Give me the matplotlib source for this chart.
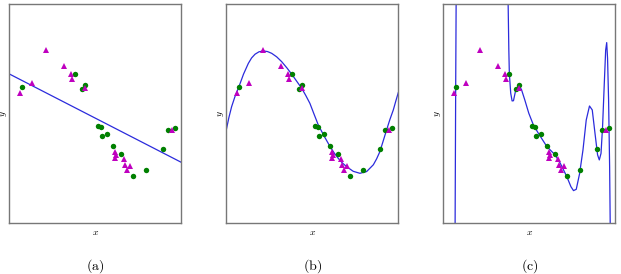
import numpy as np
import matplotlib
matplotlib.use("Agg")
import matplotlib.pyplot as plt

plt.rcParams['mathtext.fontset'] = 'cm'

# data points (same in all three panels), normalised axes units
gx = [0.072, 0.384, 0.439, 0.423, 0.518, 0.536, 0.540, 0.567, 0.604, 0.647, 0.717, 0.792, 0.891, 0.924, 0.963]
gy = [0.620, 0.682, 0.632, 0.612, 0.445, 0.438, 0.400, 0.407, 0.351, 0.318, 0.216, 0.243, 0.337, 0.426, 0.435]
mx = [0.062, 0.130, 0.212, 0.317, 0.359, 0.363, 0.439, 0.617, 0.614, 0.620, 0.668, 0.670, 0.699, 0.684, 0.944]
my = [0.594, 0.638, 0.790, 0.717, 0.682, 0.658, 0.616, 0.324, 0.298, 0.310, 0.292, 0.267, 0.263, 0.243, 0.426]

# (a) linear fit
ax_line = [0.0, 1.0]
ay_line = [0.681, 0.278]

# (b) cubic fit
bx_curve = [0.0, 0.015, 0.031, 0.050, 0.072, 0.100, 0.128, 0.147, 0.167, 0.190, 0.215, 0.240,
            0.264, 0.293, 0.322, 0.353, 0.384, 0.410, 0.438, 0.462, 0.486, 0.510, 0.535, 0.570,
            0.603, 0.627, 0.651, 0.675, 0.700, 0.738, 0.777, 0.816, 0.855, 0.874, 0.893, 0.912,
            0.932, 0.951, 0.971, 0.985, 1.0]
by_curve = [0.426, 0.482, 0.532, 0.577, 0.620, 0.680, 0.729, 0.754, 0.771, 0.782, 0.786, 0.783,
            0.775, 0.759, 0.737, 0.708, 0.676, 0.647, 0.616, 0.583, 0.547, 0.498, 0.448, 0.396,
            0.350, 0.321, 0.296, 0.275, 0.258, 0.237, 0.228, 0.236, 0.267, 0.294, 0.327, 0.375,
            0.426, 0.473, 0.517, 0.556, 0.596]

# (c) overfitted polynomial
cx_curve = [0.066, 0.072, 0.078, 0.214, 0.369, 0.373, 0.377, 0.381, 0.384, 0.392, 0.400, 0.408,
            0.419, 0.439, 0.454, 0.474, 0.497, 0.524, 0.553, 0.602, 0.650, 0.680, 0.718, 0.742,
            0.757, 0.773, 0.792, 0.812, 0.831, 0.850, 0.866, 0.882, 0.897, 0.907, 0.917, 0.926,
            0.936, 0.944, 0.950, 0.955, 0.961, 0.967, 0.971, 0.974]
cy_curve = [-0.5, 0.620, 1.5, 1.9, 1.32, 1.049, 0.998, 0.790, 0.682, 0.593, 0.558, 0.559,
            0.600, 0.626, 0.611, 0.562, 0.502, 0.448, 0.410, 0.350, 0.312, 0.274, 0.213, 0.167,
            0.149, 0.155, 0.225, 0.334, 0.471, 0.535, 0.517, 0.410, 0.312, 0.289, 0.319, 0.441,
            0.638, 0.790, 0.824, 0.752, 0.562, 0.258, -0.05, -0.5]

curves = [(ax_line, ay_line), (bx_curve, by_curve), (cx_curve, cy_curve)]
captions = ['(a)', '(b)', '(c)']
lefts = [9.3, 226.3, 443.3]

W, H = 621, 274
fig = plt.figure(figsize=(W / 100, H / 100), dpi=100)
for i in range(3):
    ax = fig.add_axes([lefts[i] / W, (H - 223.3) / H, 172 / W, 219.3 / H])
    cx, cy = curves[i]
    ax.plot(cx, cy, color='#2b2bdc', lw=0.9, zorder=1)
    ax.plot(gx, gy, 'o', color='green', ms=3.9, mew=0, zorder=2)
    ax.plot(mx, my, '^', color='#bf00bf', ms=4.0, mew=0, zorder=3)
    ax.set_xlim(0, 1)
    ax.set_ylim(0, 1)
    ax.set_xticks([])
    ax.set_yticks([])
    for s in ax.spines.values():
        s.set_color('#777777')
        s.set_linewidth(1.0)
    ax.set_xlabel(r'$x$', fontsize=7, labelpad=3)
    ax.set_ylabel(r'$y$', fontsize=7, labelpad=0.5)
    fig.text((lefts[i] + 86) / W, 1 - 266 / H, r'$\mathrm{' + captions[i] + '}$',
             ha='center', va='center', fontsize=10)

fig.savefig('out.png', dpi=100)
